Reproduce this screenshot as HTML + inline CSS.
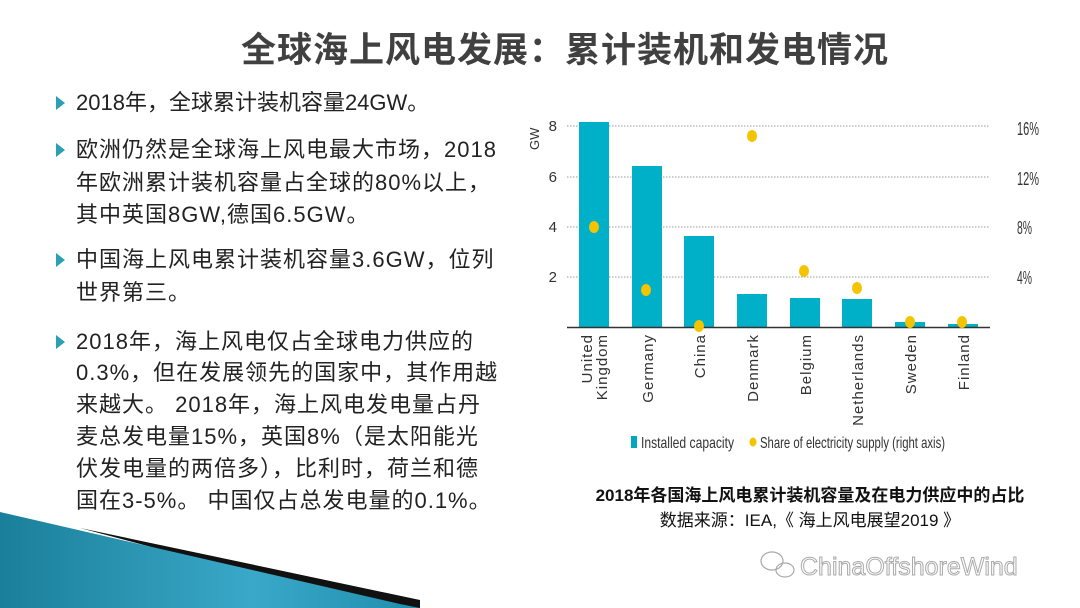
<!DOCTYPE html>
<html><head><meta charset="utf-8"><style>
html,body{margin:0;padding:0;background:#fff;}
body{width:1080px;height:608px;position:relative;overflow:hidden;font-family:"Liberation Sans","Noto Sans CJK SC",sans-serif;}
.t{position:absolute;white-space:nowrap;color:#222;font-size:22px;line-height:30px;transform:translateY(-15px);letter-spacing:1px;}
.b{position:absolute;width:0;height:0;border-top:7px solid transparent;border-bottom:7px solid transparent;border-left:9px solid #2a9fb5;transform:translateY(-7px);}
</style></head><body>
<div style="position:absolute;left:0;width:1130px;top:22px;text-align:center;font-size:35px;font-weight:bold;color:#404040;letter-spacing:1px;">全球海上风电发展：累计装机和发电情况</div>

<div class="b" style="left:56px;top:103px"></div>
<div class="t" style="left:76px;top:103px;letter-spacing:0">2018年，全球累计装机容量24GW。</div>
<div class="b" style="left:56px;top:150px"></div>
<div class="t" style="left:76px;top:150px">欧洲仍然是全球海上风电最大市场，2018</div>
<div class="t" style="left:76px;top:183px">年欧洲累计装机容量占全球的80%以上，</div>
<div class="t" style="left:76px;top:215px">其中英国8GW,德国6.5GW。</div>
<div class="b" style="left:56px;top:260px"></div>
<div class="t" style="left:76px;top:260px">中国海上风电累计装机容量3.6GW，位列</div>
<div class="t" style="left:76px;top:293px">世界第三。</div>
<div class="b" style="left:56px;top:342px"></div>
<div class="t" style="left:76px;top:342px">2018年，海上风电仅占全球电力供应的</div>
<div class="t" style="left:76px;top:373px">0.3%，但在发展领先的国家中，其作用越</div>
<div class="t" style="left:76px;top:405px">来越大。 2018年，海上风电发电量占丹</div>
<div class="t" style="left:76px;top:437px">麦总发电量15%，英国8%（是太阳能光</div>
<div class="t" style="left:76px;top:469px">伏发电量的两倍多），比利时，荷兰和德</div>
<div class="t" style="left:76px;top:501px">国在3-5%。 中国仅占总发电量的0.1%。</div>

<svg width="1080" height="608" style="position:absolute;left:0;top:0" xmlns="http://www.w3.org/2000/svg">
<defs><linearGradient id="g" x1="0" y1="0" x2="1" y2="0"><stop offset="0" stop-color="#1a7f9a"/><stop offset="0.6" stop-color="#3aa8c8"/><stop offset="1" stop-color="#1f8fae"/></linearGradient></defs>
<polygon points="80,528 420,600 420,608 380,608" fill="#111"/>
<polygon points="0,512 400,604 420,608 0,608" fill="url(#g)"/>
<g stroke="#999" stroke-dasharray="1.5,1.5" stroke-width="1">
<line x1="567" y1="126" x2="990" y2="126"/><line x1="567" y1="177" x2="990" y2="177"/>
<line x1="567" y1="227" x2="990" y2="227"/><line x1="567" y1="277" x2="990" y2="277"/>
</g>
<g fill="#00b0c8">
<rect x="579" y="122" width="30" height="205"/><rect x="632" y="166" width="30" height="161"/>
<rect x="684" y="236" width="30" height="91"/><rect x="737" y="294" width="30" height="33"/>
<rect x="790" y="298" width="30" height="29"/><rect x="842" y="299" width="30" height="28"/>
<rect x="895" y="322" width="30" height="5"/><rect x="948" y="324" width="30" height="3"/>
</g>
<line x1="567" y1="327.5" x2="990" y2="327.5" stroke="#333" stroke-width="1.5"/>
<g fill="#f5c400">
<ellipse cx="594" cy="227" rx="5" ry="6"/><ellipse cx="646" cy="290" rx="5" ry="6"/>
<ellipse cx="699" cy="326" rx="5" ry="6"/><ellipse cx="752" cy="136" rx="5" ry="6"/>
<ellipse cx="804" cy="271" rx="5" ry="6"/><ellipse cx="857" cy="288" rx="5" ry="6"/>
<ellipse cx="910" cy="322" rx="5" ry="6"/><ellipse cx="962" cy="322" rx="5" ry="6"/>
</g>
<g font-family="Liberation Sans Narrow, Liberation Sans, sans-serif" font-size="15" fill="#333">
<text x="557" y="131" text-anchor="end">8</text><text x="557" y="182" text-anchor="end">6</text>
<text x="557" y="232" text-anchor="end">4</text><text x="557" y="282" text-anchor="end">2</text>
<g font-size="18">
<text x="1017" y="135" textLength="22" lengthAdjust="spacingAndGlyphs">16%</text><text x="1017" y="185" textLength="22" lengthAdjust="spacingAndGlyphs">12%</text>
<text x="1017" y="234" textLength="15" lengthAdjust="spacingAndGlyphs">8%</text><text x="1017" y="284" textLength="15" lengthAdjust="spacingAndGlyphs">4%</text>
</g>
<text transform="translate(539,150) rotate(-90)" font-size="13">GW</text>
</g>
<g font-family="Liberation Sans, sans-serif" font-size="15" fill="#333" text-anchor="end" letter-spacing="1">
<text transform="translate(592,334) rotate(-90)">United</text>
<text transform="translate(607,334) rotate(-90)">Kingdom</text>
<text transform="translate(653,334) rotate(-90)">Germany</text>
<text transform="translate(705,334) rotate(-90)">China</text>
<text transform="translate(758,334) rotate(-90)">Denmark</text>
<text transform="translate(811,334) rotate(-90)">Belgium</text>
<text transform="translate(863,334) rotate(-90)">Netherlands</text>
<text transform="translate(916,334) rotate(-90)">Sweden</text>
<text transform="translate(969,334) rotate(-90)">Finland</text>
</g>
<rect x="631" y="436" width="6" height="12" fill="#00a8c0"/>
<ellipse cx="753" cy="442" rx="3.5" ry="4.5" fill="#f5c400"/>
<g font-family="Liberation Sans Narrow, Liberation Sans, sans-serif" font-size="16" fill="#333">
<text x="641" y="448" textLength="93" lengthAdjust="spacingAndGlyphs">Installed capacity</text>
<text x="760" y="448" textLength="185" lengthAdjust="spacingAndGlyphs">Share of electricity supply (right axis)</text>
</g>
<g font-family="Liberation Sans, Noto Sans CJK SC, sans-serif" font-size="17" fill="#111" text-anchor="middle">
<text x="810" y="501" font-weight="bold">2018年各国海上风电累计装机容量及在电力供应中的占比</text>
<text x="810" y="526">数据来源：IEA,《 海上风电展望2019 》</text>
</g>
<text x="800" y="575" font-family="Liberation Sans, sans-serif" font-size="25" fill="#fff" stroke="#aaa" stroke-width="1">ChinaOffshoreWind</text>
<g fill="none" stroke="#aaa" stroke-width="1.2"><ellipse cx="772" cy="561" rx="11" ry="9"/><ellipse cx="785" cy="570" rx="9" ry="7"/></g>
</svg>
</body></html>
